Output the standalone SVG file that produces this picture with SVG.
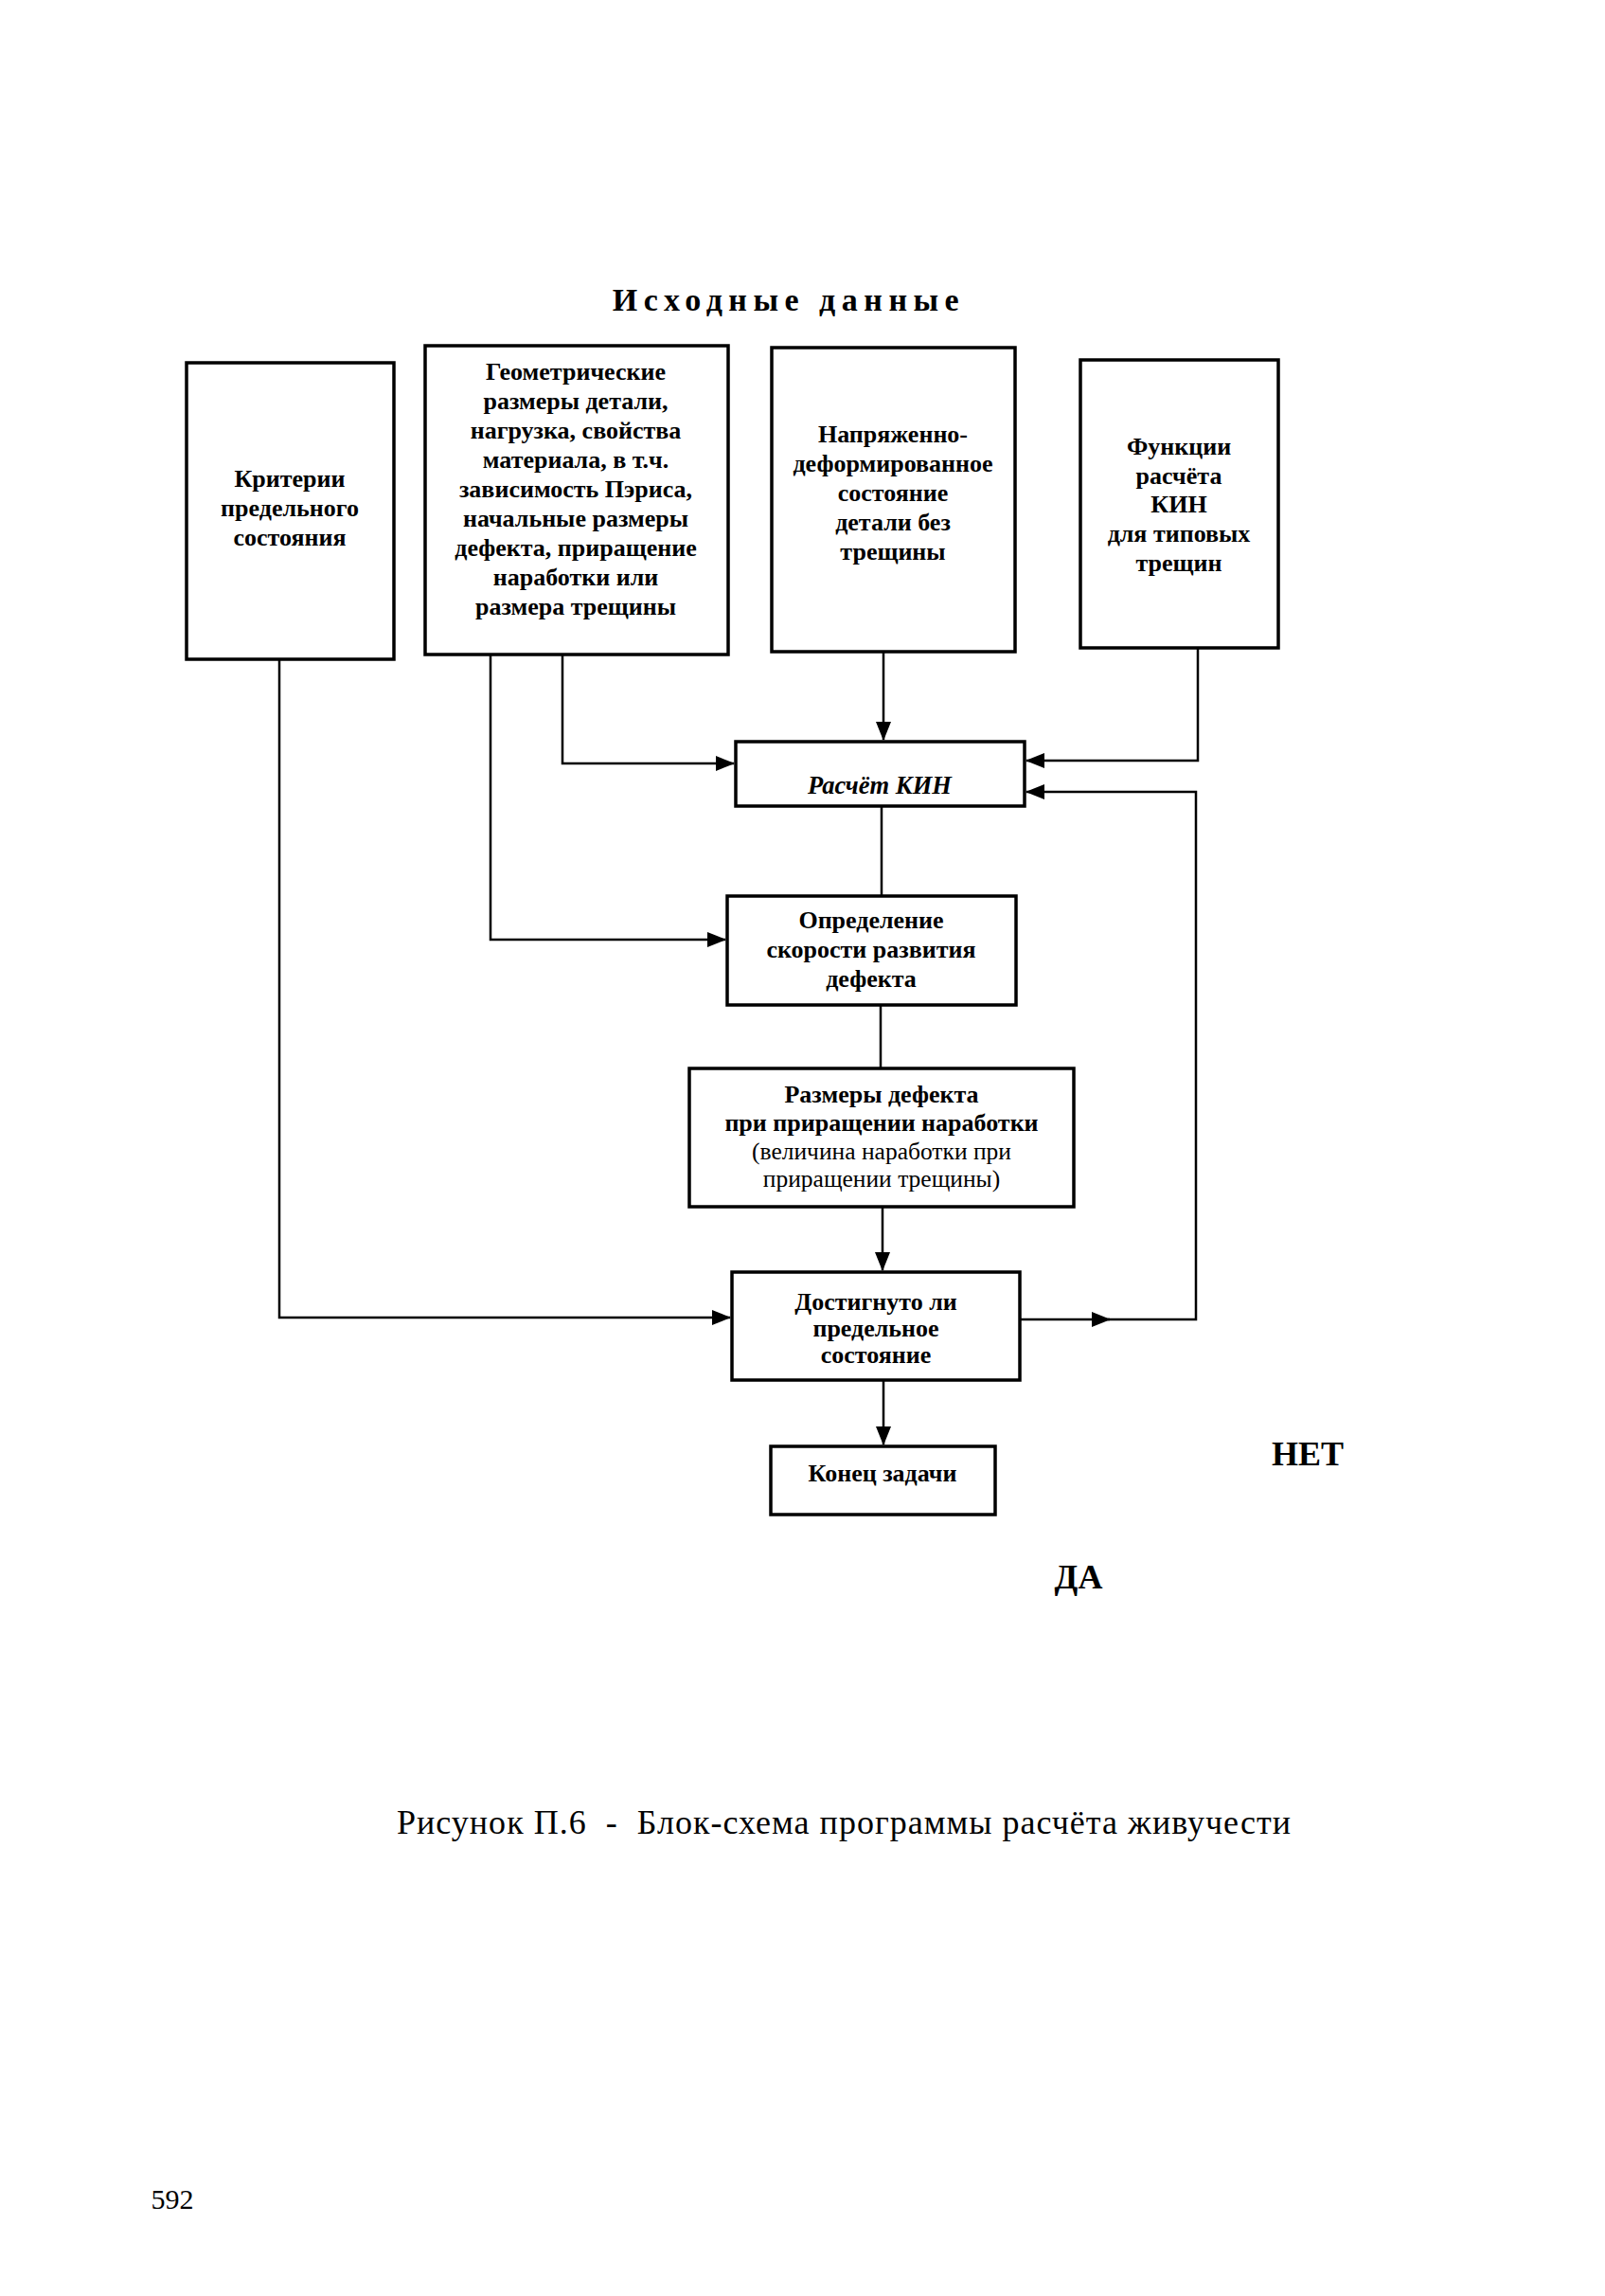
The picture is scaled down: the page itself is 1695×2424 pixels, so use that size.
<svg xmlns="http://www.w3.org/2000/svg" width="1695" height="2424" viewBox="0 0 1695 2424">
<defs>
<marker id="arr" markerUnits="userSpaceOnUse" markerWidth="20" markerHeight="16" refX="19" refY="8" orient="auto">
<path d="M0,0 L20,8 L0,16 Z" fill="#000"/>
</marker>
<style>
.box{fill:#fff;stroke:#000;stroke-width:3.5}
.con{fill:none;stroke:#000;stroke-width:2.5}
.t{font-family:"Liberation Serif","Times New Roman",serif;font-weight:bold;font-size:26px;text-anchor:middle;fill:#000}
.r{font-family:"Liberation Serif","Times New Roman",serif;font-weight:normal;font-size:25.5px;text-anchor:middle;fill:#000}
</style>
</defs>
<rect width="1695" height="2424" fill="#fff"/>
<text x="833" y="328" class="t" style="font-size:34px;letter-spacing:6.5px">Исходные данные</text>

<g id="connectors">
<path class="con" d="M295,696 V1391 H771" marker-end="url(#arr)"/>
<path class="con" d="M594,691 V806 H775" marker-end="url(#arr)"/>
<path class="con" d="M518,691 V992 H766" marker-end="url(#arr)"/>
<path class="con" d="M933,688 V781" stroke-width="1.8" marker-end="url(#arr)"/>
<path class="con" d="M1265,684 V803 H1084" marker-end="url(#arr)"/>
<path class="con" d="M1077,1393 H1172" marker-end="url(#arr)"/>
<path class="con" d="M1170,1393 H1263 V836 H1084" marker-end="url(#arr)"/>
<path class="con" d="M931,851 V946"/>
<path class="con" d="M930,1061 V1128"/>
<path class="con" d="M932,1274 V1341" marker-end="url(#arr)"/>
<path class="con" d="M933,1457 V1525" marker-end="url(#arr)"/>
</g>

<g id="n1">
<rect class="box" x="197" y="383" width="219" height="313"/>
<text class="t" x="306" y="514">Критерии</text>
<text class="t" x="306" y="545">предельного</text>
<text class="t" x="306" y="576">состояния</text>
</g>
<g id="n2">
<rect class="box" x="449" y="365" width="320" height="326"/>
<text class="t" x="608" y="401">Геометрические</text>
<text class="t" x="608" y="432">размеры детали,</text>
<text class="t" x="608" y="463">нагрузка, свойства</text>
<text class="t" x="608" y="494">материала, в т.ч.</text>
<text class="t" x="608" y="525">зависимость Пэриса,</text>
<text class="t" x="608" y="556">начальные размеры</text>
<text class="t" x="608" y="587">дефекта, приращение</text>
<text class="t" x="608" y="618">наработки или</text>
<text class="t" x="608" y="649">размера трещины</text>
</g>
<g id="n3">
<rect class="box" x="815" y="367" width="257" height="321"/>
<text class="t" x="943" y="467">Напряженно-</text>
<text class="t" x="943" y="498">деформированное</text>
<text class="t" x="943" y="529">состояние</text>
<text class="t" x="943" y="560">детали без</text>
<text class="t" x="943" y="591">трещины</text>
</g>
<g id="n4">
<rect class="box" x="1141" y="380" width="209" height="304"/>
<text class="t" x="1245" y="480">Функции</text>
<text class="t" x="1245" y="511">расчёта</text>
<text class="t" x="1245" y="541">КИН</text>
<text class="t" x="1245" y="572">для типовых</text>
<text class="t" x="1245" y="603">трещин</text>
</g>
<g id="n5">
<rect class="box" x="777" y="783" width="305" height="68"/>
<text class="t" x="929" y="838" style="font-style:italic;font-size:26.5px">Расчёт КИН</text>
</g>
<g id="n6">
<rect class="box" x="768" y="946" width="305" height="115"/>
<text class="t" x="920" y="980">Определение</text>
<text class="t" x="920" y="1011">скорости развития</text>
<text class="t" x="920" y="1042">дефекта</text>
</g>
<g id="n7">
<rect class="box" x="728" y="1128" width="406" height="146"/>
<text class="t" x="931" y="1164">Размеры дефекта</text>
<text class="t" x="931" y="1194">при приращении наработки</text>
<text class="r" x="931" y="1224">(величина наработки при</text>
<text class="r" x="931" y="1253">приращении трещины)</text>
</g>
<g id="n8">
<rect class="box" x="773" y="1343" width="304" height="114"/>
<text class="t" x="925" y="1383">Достигнуто ли</text>
<text class="t" x="925" y="1411">предельное</text>
<text class="t" x="925" y="1439">состояние</text>
</g>
<g id="n9">
<rect class="box" x="814" y="1527" width="237" height="72"/>
<text class="t" x="932" y="1564">Конец задачи</text>
</g>

<text class="t" x="1381" y="1547" style="font-size:36px">НЕТ</text>
<text class="t" x="1139" y="1677" style="font-size:36px">ДА</text>
<text class="r" x="891" y="1936" style="font-size:36px;white-space:pre" xml:space="preserve" textLength="944" lengthAdjust="spacing">Рисунок П.6  -  Блок-схема программы расчёта живучести</text>
<text class="r" x="182" y="2332" style="font-size:30px">592</text>
</svg>
